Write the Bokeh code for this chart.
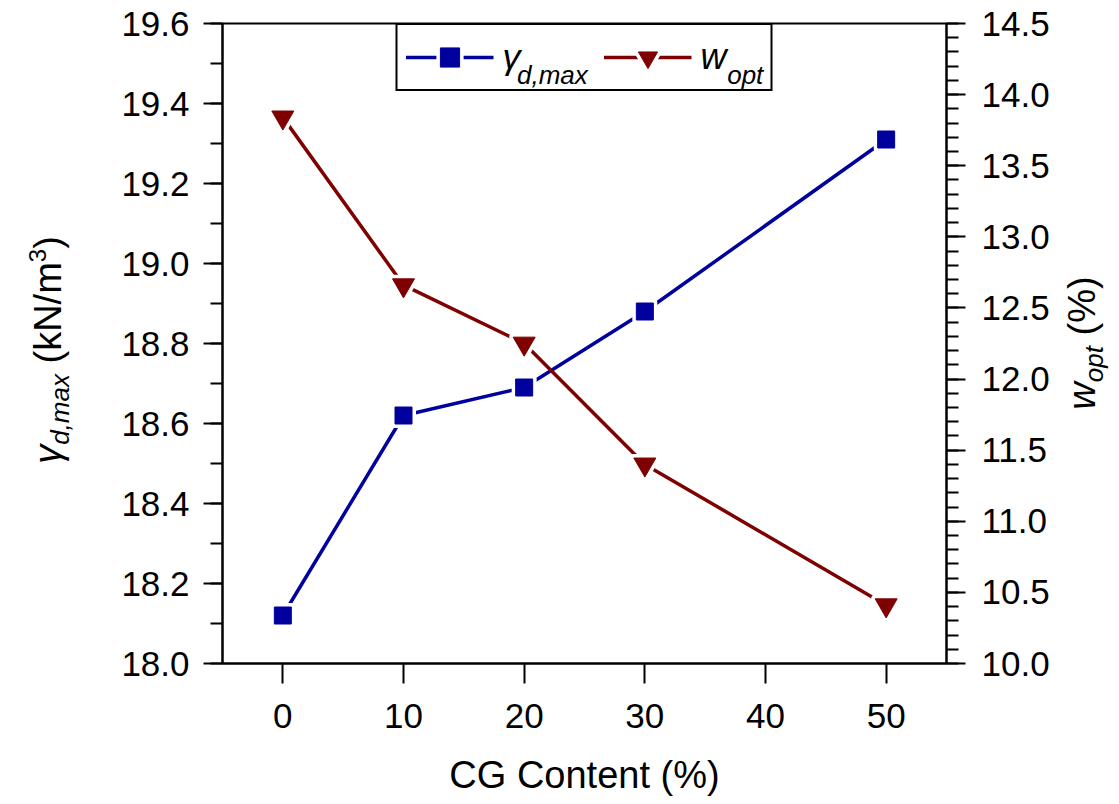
import math
from bokeh.plotting import figure
from bokeh.models import (Range1d, LinearAxis, SingleIntervalTicker, FixedTicker,
                          PrintfTickFormatter, Legend, LegendItem, Div)
from bokeh.core.properties import value
from bokeh.layouts import row
from bokeh.embed import file_html
from bokeh.resources import INLINE

# ---------------- data ----------------
cg_content = [0, 10, 20, 30, 50]
gamma_dmax = [18.12, 18.62, 18.69, 18.88, 19.31]
w_opt = [13.84, 12.66, 12.25, 11.40, 10.41]
x_ticks = [0, 10, 20, 30, 40, 50]
x_range = (-5, 55)
y_left_range = (18.0, 19.6)
y_right_range = (10.0, 14.5)

x_title = "CG Content (%)"
# (text, font px, style, baseline shift px: + = raised)
left_title_parts = [("γ", 38, "italic", 0), ("d,max", 26, "italic", -8),
                    (" (kN/m", 38, "normal", 0), ("3", 24, "normal", 15), (")", 38, "normal", 0)]
right_title_parts = [("w", 38, "italic", 0), ("opt", 26, "italic", -8), (" (%)", 38, "normal", 0)]
legend_main = ["γ", "w"]
legend_sub = ["d,max", "opt"]

BLUE = "#00009E"
RED = "#7F0000"
FONT = "Liberation Sans"

CW = {"γ": .36, "w": .70}


def tw(s, size):
    return sum(CW.get(c, .556) for c in s) * size


LEFT_DIV_W, RIGHT_DIV_W, TOTAL_H = 100, 55, 798
FRAME_W, FRAME_H = 724, 640
p = figure(frame_width=FRAME_W, frame_height=FRAME_H,
           x_range=Range1d(*x_range), y_range=Range1d(*y_left_range),
           output_backend="svg", toolbar_location=None,
           min_border_left=122, min_border_top=23, min_border_right=110, min_border_bottom=135)
p.extra_y_ranges = {"w": Range1d(*y_right_range)}
p.grid.visible = False
p.outline_line_color = "black"
p.outline_line_width = 2
p.outline_line_alpha = 1.0
p.background_fill_color = "white"
p.border_fill_color = "white"

PX_X = FRAME_W / (x_range[1] - x_range[0])
PX_Y = FRAME_H / (y_left_range[1] - y_left_range[0])


def dx(px):
    return x_range[0] + px / PX_X


def dy(px):
    return y_left_range[0] + px / PX_Y


def style_axis(ax, major_out, minor_out, standoff):
    ax.axis_line_width = 2
    ax.axis_line_color = "black"
    ax.major_tick_line_width = 2
    ax.minor_tick_line_width = 2
    ax.major_tick_in = 0
    ax.minor_tick_in = 0
    ax.major_tick_out = major_out
    ax.minor_tick_out = minor_out
    ax.major_label_text_font = FONT
    ax.major_label_text_font_size = "35px"
    ax.major_label_text_color = "black"
    ax.major_label_standoff = standoff


xax = p.xaxis[0]
xax.ticker = FixedTicker(ticks=x_ticks)
style_axis(xax, 20, 0, 20)
xax.axis_label = x_title
xax.axis_label_text_font = FONT
xax.axis_label_text_font_size = "38px"
xax.axis_label_text_font_style = "normal"
xax.axis_label_text_color = "black"
xax.axis_label_standoff = 23

yax = p.yaxis[0]
yax.ticker = SingleIntervalTicker(interval=0.2, num_minor_ticks=2)
yax.formatter = PrintfTickFormatter(format="%.1f")
style_axis(yax, 19, 12, 14)

rax = LinearAxis(y_range_name="w")
rax.ticker = SingleIntervalTicker(interval=0.5, num_minor_ticks=5)
rax.formatter = PrintfTickFormatter(format="%.1f")
style_axis(rax, 19, 12, 16)
p.add_layout(rax, "right")

# ---------------- series ----------------
l1 = p.line(cg_content, gamma_dmax, line_color=BLUE, line_width=3.5)
w1 = p.scatter(cg_content, gamma_dmax, marker="square", size=17, fill_color=BLUE,
               line_color="white", line_width=8, line_join="round")
s1 = p.scatter(cg_content, gamma_dmax, marker="square", size=17, fill_color=BLUE, line_color=BLUE)

l2 = p.line(cg_content, w_opt, line_color=RED, line_width=3.5, y_range_name="w")
w2 = p.scatter(cg_content, w_opt, marker="inverted_triangle", size=22, fill_color=RED,
               line_color="white", line_width=8, line_join="round", y_range_name="w")
s2 = p.scatter(cg_content, w_opt, marker="inverted_triangle", size=22, fill_color=RED,
               line_color=RED, y_range_name="w")

# ---------------- legend ----------------
LPAD, GW, GH, LST, LW, LSP, LFS = 8, 88, 48, 9, 62, 39, 36
legend = Legend(items=[LegendItem(label=legend_main[0], renderers=[l1, w1, s1]),
                       LegendItem(label=legend_main[1], renderers=[l2, w2, s2])],
                location="top_center", orientation="horizontal", margin=0,
                padding=LPAD, spacing=LSP, glyph_width=GW, glyph_height=GH,
                label_standoff=LST, label_width=LW,
                label_text_font=FONT, label_text_font_size=f"{LFS}px",
                label_text_font_style="italic", label_text_color="black",
                border_line_color="black", border_line_width=2, border_line_alpha=1.0,
                background_fill_alpha=0.0)
p.add_layout(legend)

# subscripts of the legend labels (drawn under the transparent legend box)
legend_w = 2 * LPAD + 2 * (GW + LST + LW) + LSP
legend_left = (FRAME_W - legend_w) / 2
sub_y = FRAME_H - (LPAD + GH / 2) - 0.31 * LFS - 8
lab1_x = legend_left + LPAD + GW + LST
lab2_x = lab1_x + LW + LSP + GW + LST
sub_x = [dx(lab1_x + tw(legend_main[0], LFS) + 1), dx(lab2_x + tw(legend_main[1], LFS) + 1)]
p.text(x=sub_x, y=[dy(sub_y)] * 2, text=legend_sub,
       text_font=value(FONT), text_font_size="26px", text_font_style="italic",
       text_color="black", text_align="left", text_baseline="alphabetic")


# ---------------- rotated axis titles (HTML, real text) ----------------
def title_div(parts, width, cx, cy):
    spans = "".join(
        f'<span style="font-size:{s}px;font-style:{st};vertical-align:{sh}px;">{t}</span>'
        for t, s, st, sh in parts)
    inner = (f'<div style="position:absolute;left:{cx}px;top:{cy}px;'
             f'transform:translate(-50%,-50%) rotate(-90deg);white-space:pre;'
             f'font-family:\'{FONT}\';color:black;line-height:normal;">{spans}</div>')
    html = f'<div style="position:relative;width:{width}px;height:{TOTAL_H}px;">{inner}</div>'
    return Div(text=html, width=width, height=TOTAL_H, margin=0)


left_div = title_div(left_title_parts, LEFT_DIV_W, 50, 350)
right_div = title_div(right_title_parts, RIGHT_DIV_W, 29, 343)

layout = row(left_div, p, right_div)
open("out.html", "w").write(file_html(layout, INLINE))
